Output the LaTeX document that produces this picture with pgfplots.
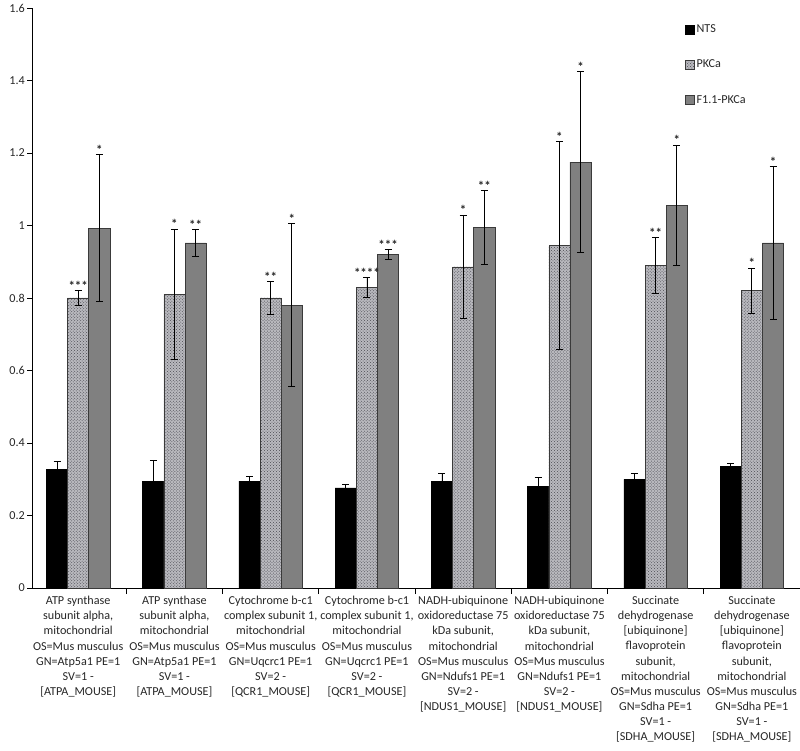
\documentclass[border=0pt]{standalone}
\usepackage{pgfplots}
\pgfplotsset{compat=1.18}
\usepackage{fontspec}
\setmainfont{Carlito}
\usetikzlibrary{patterns}
\definecolor{ftgray}{HTML}{808080}
\definecolor{ftedge}{HTML}{3A3A3A}
\definecolor{pkbase}{HTML}{B9B9BE}
\definecolor{pkdot}{HTML}{4A4A52}
\begin{document}
\begin{tikzpicture}[x=1bp,y=1bp]
\begin{axis}[
  scale only axis,
  width=768bp, height=580bp,
  xmin=-0.48, xmax=7.5,
  ymin=0, ymax=1.6,
  ybar, bar width=0.22,
  axis x line*=bottom, axis y line*=left,
  axis line style={-, black, line width=0.9pt},
  ytick={0,0.2,...,1.6},
  /pgf/number format/fixed, /pgf/number format/precision=1,
  /pgf/number format/assume math mode=true,
  tick align=outside,
  major tick length=5bp,
  y tick style={black, line width=0.8pt},
  xtick={0,...,7},
  major x tick style={draw=none},
  minor xtick={0.5,1.5,...,6.5},
  minor x tick style={black, line width=0.8pt},
  minor tick length=6bp,
  every tick label/.append style={font=\fontsize{12.2}{15.2}\selectfont, text=black!85},
  xticklabel style={align=center, anchor=north, inner sep=2bp, yshift=-1bp},
  yticklabel style={inner sep=2bp},
  xticklabels={
    {ATP synthase\\subunit alpha,\\mitochondrial\\OS=Mus musculus\\GN=Atp5a1 PE=1\\SV=1 -\\{[ATPA\_MOUSE]}},
    {ATP synthase\\subunit alpha,\\mitochondrial\\OS=Mus musculus\\GN=Atp5a1 PE=1\\SV=1 -\\{[ATPA\_MOUSE]}},
    {Cytochrome b-c1\\complex subunit 1,\\mitochondrial\\OS=Mus musculus\\GN=Uqcrc1 PE=1\\SV=2 -\\{[QCR1\_MOUSE]}},
    {Cytochrome b-c1\\complex subunit 1,\\mitochondrial\\OS=Mus musculus\\GN=Uqcrc1 PE=1\\SV=2 -\\{[QCR1\_MOUSE]}},
    {NADH-ubiquinone\\oxidoreductase 75\\kDa subunit,\\mitochondrial\\OS=Mus musculus\\GN=Ndufs1 PE=1\\SV=2 -\\{[NDUS1\_MOUSE]}},
    {NADH-ubiquinone\\oxidoreductase 75\\kDa subunit,\\mitochondrial\\OS=Mus musculus\\GN=Ndufs1 PE=1\\SV=2 -\\{[NDUS1\_MOUSE]}},
    {Succinate\\dehydrogenase\\{[ubiquinone]}\\flavoprotein\\subunit,\\mitochondrial\\OS=Mus musculus\\GN=Sdha PE=1\\SV=1 -\\{[SDHA\_MOUSE]}},
    {Succinate\\dehydrogenase\\{[ubiquinone]}\\flavoprotein\\subunit,\\mitochondrial\\OS=Mus musculus\\GN=Sdha PE=1\\SV=1 -\\{[SDHA\_MOUSE]}}
  },
  clip=false,
  legend style={draw=none, fill=none, at={(0.85,0.975)}, anchor=north west,
    font=\fontsize{12.2}{14.6}\selectfont, text=black!85,
    row sep=22bp, inner sep=0pt},
  legend cell align=left,
  legend image code/.code={\draw[#1] (0bp,-4.5bp) rectangle (9bp,4.5bp);},
  error bars/y dir=both, error bars/y explicit,
  error bars/error bar style={line width=0.8pt, black},
  error bars/error mark options={rotate=90, mark size=3.5bp, line width=0.8pt, black},
]
% NTS
\addplot[bar shift=-0.22, fill=black, draw=black, line width=0.6pt]
  coordinates {
  (0,0.328) +- (0,0.022)
  (1,0.295) +- (0,0.058)
  (2,0.295) +- (0,0.013)
  (3,0.276) +- (0,0.009)
  (4,0.295) +- (0,0.020)
  (5,0.280) +- (0,0.025)
  (6,0.300) +- (0,0.016)
  (7,0.335) +- (0,0.010)
  };
\addlegendentry{NTS}
% PKCa
\addplot[bar shift=0, fill=pkbase, draw=ftedge, line width=0.6pt,
  postaction={pattern=crosshatch dots, pattern color=pkdot}]
  coordinates {
  (0,0.800) +- (0,0.020)
  (1,0.810) +- (0,0.180)
  (2,0.800) +- (0,0.045)
  (3,0.830) +- (0,0.027)
  (4,0.886) +- (0,0.143)
  (5,0.944) +- (0,0.287)
  (6,0.890) +- (0,0.077)
  (7,0.820) +- (0,0.063)
  };
\addlegendentry{PKCa}
% F1.1-PKCa
\addplot[bar shift=0.22, fill=ftgray, draw=ftedge, line width=0.6pt]
  coordinates {
  (0,0.993) +- (0,0.202)
  (1,0.952) +- (0,0.036)
  (2,0.780) +- (0,0.225)
  (3,0.920) +- (0,0.013)
  (4,0.995) +- (0,0.101)
  (5,1.175) +- (0,0.249)
  (6,1.056) +- (0,0.166)
  (7,0.952) +- (0,0.210)
  };
\addlegendentry{F1.1-PKCa}
% significance stars
\addplot[sharp plot, bar shift=0, draw=none, mark=none, forget plot, nodes near coords,
  point meta=explicit symbolic,
  nodes near coords style={anchor=south, inner sep=0pt, yshift=0bp,
    font=\bfseries\fontsize{13}{14}\selectfont, text=black!85}]
  coordinates {
  (0,0.820) [***]
  (0.22,1.195) [*]
  (1,0.990) [*]
  (1.22,0.988) [**]
  (2,0.845) [**]
  (2.22,1.005) [*]
  (3,0.857) [****]
  (3.22,0.933) [***]
  (4,1.029) [*]
  (4.22,1.096) [**]
  (5,1.231) [*]
  (5.22,1.424) [*]
  (6,0.967) [**]
  (6.22,1.222) [*]
  (7,0.883) [*]
  (7.22,1.162) [*]
  };
\end{axis}
\pgfresetboundingbox
\path ([xshift=-32bp, yshift=8bp]current axis.north west) rectangle ([yshift=-163bp]current axis.south east);
\end{tikzpicture}
\end{document}
